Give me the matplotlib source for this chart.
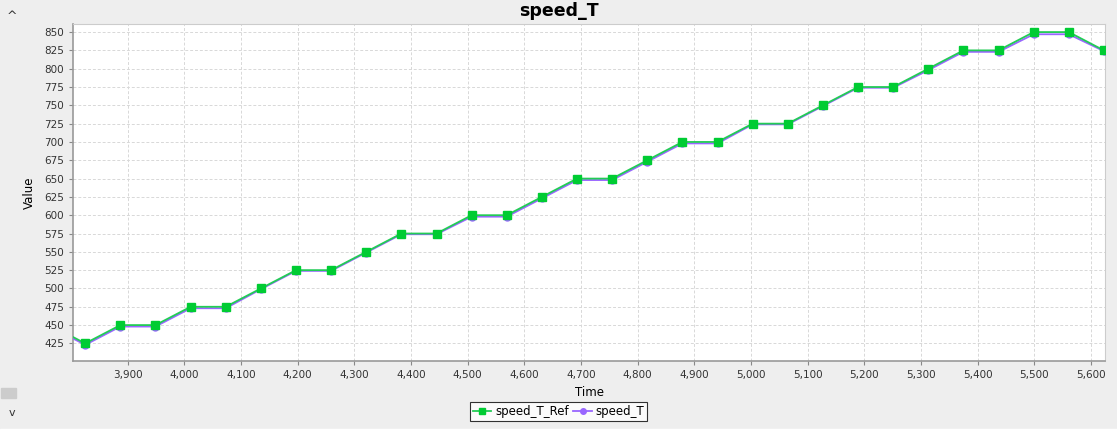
import matplotlib
matplotlib.use("Agg")
import matplotlib.pyplot as plt
from matplotlib.ticker import FuncFormatter, MultipleLocator

# sample times (one point before the visible window, then every ~62 units)
time = [3763, 3825, 3887, 3949, 4011, 4073, 4135, 4197, 4259, 4321, 4383,
        4445, 4507, 4569, 4631, 4693, 4755, 4817, 4879, 4941, 5003,
        5065, 5127, 5189, 5251, 5313, 5375, 5437, 5499, 5561, 5623]
speed_T_Ref = [450, 425, 450, 450, 475, 475, 500, 525, 525, 550, 575,
               575, 600, 600, 625, 650, 650, 675, 700, 700, 725,
               725, 750, 775, 775, 800, 825, 825, 850, 850, 825]
speed_T = [448, 423, 448, 448, 473, 473, 499, 524, 524, 549, 574,
           574, 598, 598, 623, 648, 648, 673, 698, 698, 724,
           724, 749, 774, 774, 798, 823, 823, 847, 847, 824]

bg = "#eeeeee"
fig = plt.figure(figsize=(11.17, 4.32), dpi=100, facecolor=bg)
ax = fig.add_axes([0.0654, 0.1644, 0.9239, 0.78])
ax.set_facecolor("white")

ax.plot(time, speed_T, color="#9966ff", lw=1.3, marker="o", ms=5,
        label="speed_T", zorder=3)
ax.plot(time, speed_T_Ref, color="#22cc55", lw=1.3, marker="s", ms=6,
        mfc="#00cc33", mec="#00cc33", label="speed_T_Ref", zorder=4)

ax.set_xlim(3803.5, 5625)
ax.set_ylim(401, 861)
ax.xaxis.set_major_locator(MultipleLocator(100))
ax.yaxis.set_major_locator(MultipleLocator(25))
ax.xaxis.set_major_formatter(FuncFormatter(lambda v, p: f"{int(v):,}"))
ax.set_yticks(range(425, 851, 25))
ax.set_ylim(401, 861)
ax.grid(True, color="#d8d8d8", ls=(0, (3, 2)), lw=0.7)
ax.set_axisbelow(True)
ax.tick_params(labelsize=7.5, length=3, color="#888888", labelcolor="#333333")
for side in ["left", "bottom"]:
    ax.spines[side].set_color("#999999")
    ax.spines[side].set_linewidth(1.2)
for side in ["top", "right"]:
    ax.spines[side].set_color("#cccccc")

ax.set_xlabel("Time", fontsize=8.5, labelpad=4)
ax.set_ylabel("Value", fontsize=8.5, labelpad=6)
fig.text(0.5, 0.975, "speed_T", ha="center", va="center", fontsize=12.5,
         fontweight="bold")

handles, labels = ax.get_legend_handles_labels()
leg = fig.legend(handles[::-1], labels[::-1], loc="center",
                 bbox_to_anchor=(0.5, 0.048), ncol=2, fontsize=8.5,
                 frameon=True, fancybox=False, edgecolor="black",
                 handlelength=1.6, handletextpad=0.3, columnspacing=0.4,
                 borderpad=0.25, markerscale=0.8)
leg.get_frame().set_linewidth(0.8)

# scrollbar-like decorations of the original window
fig.text(0.011, 0.962, "^", fontsize=9, ha="center", va="center", color="#333333")
fig.text(0.011, 0.045, "v", fontsize=8, ha="center", va="center", color="#333333")
fig.patches.append(plt.Rectangle((0.001, 0.078), 0.013, 0.025,
                                 transform=fig.transFigure, color="#cccccc"))
fig.patches.append(plt.Rectangle((0.0, 0.0), 1.0, 0.007,
                                 transform=fig.transFigure, color="#ffffff"))

fig.savefig("out.png", dpi=100, facecolor=bg)
